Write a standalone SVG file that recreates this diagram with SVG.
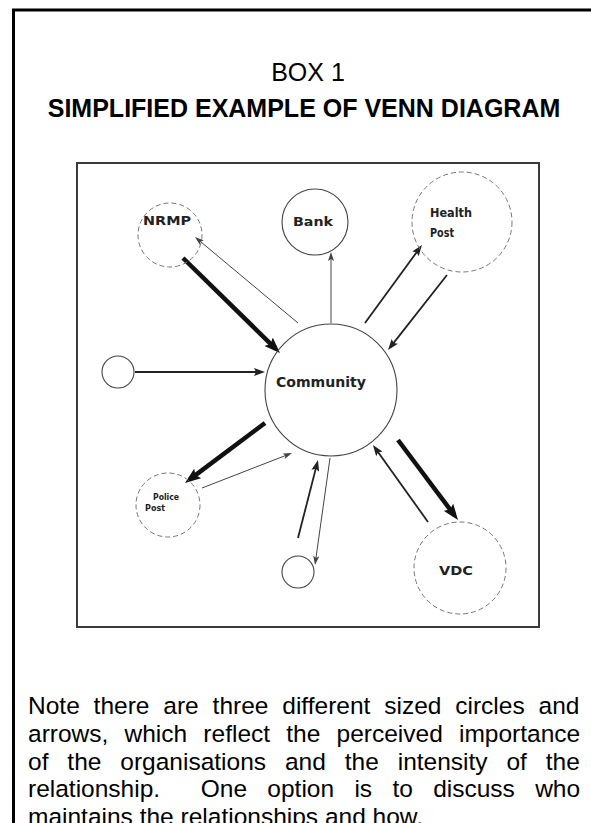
<svg xmlns="http://www.w3.org/2000/svg" width="591" height="823" viewBox="0 0 591 823">
<style>
.body{font-family:"Liberation Sans",Arial,sans-serif;font-size:24.5px;fill:#000}
.head{font-family:"Liberation Sans",Arial,sans-serif;font-size:25px;fill:#000;text-anchor:middle}
.lbl{font-family:"DejaVu Sans",sans-serif;font-weight:bold;font-size:12px;fill:#222;text-anchor:middle}
.c{fill:none;stroke:#444;stroke-width:1.1}
.cf{fill:none;stroke:#777;stroke-width:1;stroke-dasharray:5 3}
.thick{stroke:#111;stroke-width:4.5;fill:none}
.med{stroke:#222;stroke-width:1.8;fill:none}
.thin{stroke:#444;stroke-width:1;fill:none}
</style>
<defs>
<marker id="ah-thick" viewBox="0 0 16 12" markerWidth="16" markerHeight="12" refX="10" refY="6" orient="auto" markerUnits="userSpaceOnUse"><path d="M0,0 L16,6 L0,12 L3,6 z" fill="#111"/></marker>
<marker id="ah-med" viewBox="0 0 11 8" markerWidth="11" markerHeight="8" refX="7" refY="4" orient="auto" markerUnits="userSpaceOnUse"><path d="M0,0 L11,4 L0,8 L2,4 z" fill="#222"/></marker>
<marker id="ah-thin" viewBox="0 0 9 6" markerWidth="9" markerHeight="6" refX="6" refY="3" orient="auto" markerUnits="userSpaceOnUse"><path d="M0,0 L9,3 L0,6 L2,3 z" fill="#444"/></marker>
</defs>
<rect width="591" height="823" fill="#fff"/>
<path d="M13.5,823 V10 H591" fill="none" stroke="#000" stroke-width="3"/>
<text class="head" x="308" y="81">BOX 1</text>
<text class="head" x="304" y="117" font-weight="bold">SIMPLIFIED EXAMPLE OF VENN DIAGRAM</text>
<rect x="77" y="163" width="462" height="464" fill="none" stroke="#3a3a3a" stroke-width="2"/>
<g id="connectors">
<line class="thick" x1="183" y1="258" x2="275.7" y2="348.8" marker-end="url(#ah-thick)"/>
<line class="thin" x1="298" y1="323" x2="197.3" y2="238.9" marker-end="url(#ah-thin)"/>
<line class="thin" x1="331" y1="323" x2="331" y2="255" marker-end="url(#ah-thin)"/>
<line class="med" x1="365" y1="323" x2="419.6" y2="248.2" marker-end="url(#ah-med)"/>
<line class="med" x1="447" y1="275" x2="390.5" y2="346.9" marker-end="url(#ah-med)"/>
<line class="med" x1="135" y1="372" x2="261" y2="372" marker-end="url(#ah-med)"/>
<line class="thick" x1="265" y1="423" x2="189.8" y2="479.4" marker-end="url(#ah-thick)"/>
<line class="thin" x1="202" y1="488" x2="289.2" y2="454.1" marker-end="url(#ah-thin)"/>
<line class="med" x1="298" y1="538" x2="317" y2="463.9" marker-end="url(#ah-med)"/>
<line class="thin" x1="330" y1="458" x2="315.4" y2="562" marker-end="url(#ah-thin)"/>
<line class="med" x1="428" y1="522" x2="375.3" y2="448.3" marker-end="url(#ah-med)"/>
<line class="thick" x1="398" y1="440" x2="454.4" y2="515.2" marker-end="url(#ah-thick)"/>
</g>
<g id="community"><circle class="c" cx="331" cy="390" r="66"/><text class="lbl" x="321" y="387" style="font-size:14px" textLength="90" lengthAdjust="spacingAndGlyphs">Community</text></g>
<g id="nrmp"><circle class="cf" cx="170" cy="235" r="32"/><text class="lbl" x="167" y="225" style="font-size:13px" textLength="48" lengthAdjust="spacingAndGlyphs">NRMP</text></g>
<g id="bank"><circle class="c" cx="315" cy="222" r="33"/><text class="lbl" x="313" y="226" style="font-size:13px" textLength="40" lengthAdjust="spacingAndGlyphs">Bank</text></g>
<g id="health-post"><circle class="cf" cx="462" cy="222" r="50"/><text class="lbl" x="451" y="217" style="font-size:13px" textLength="42" lengthAdjust="spacingAndGlyphs">Health</text><text class="lbl" x="442" y="237" style="font-size:13px" textLength="24" lengthAdjust="spacingAndGlyphs">Post</text></g>
<g id="left-circle"><circle class="c" cx="118" cy="372" r="16"/></g>
<g id="police-post"><circle class="cf" cx="168" cy="505" r="32"/><text class="lbl" x="166" y="500" style="font-size:8px" textLength="26" lengthAdjust="spacingAndGlyphs">Police</text><text class="lbl" x="155" y="511" style="font-size:8px" textLength="20" lengthAdjust="spacingAndGlyphs">Post</text></g>
<g id="bottom-circle"><circle class="c" cx="298" cy="572" r="16"/></g>
<g id="vdc"><circle class="cf" cx="460" cy="568" r="46"/><text class="lbl" x="456" y="575" style="font-size:13px" textLength="34" lengthAdjust="spacingAndGlyphs">VDC</text></g>
<text class="body" x="28" y="714" word-spacing="7.05">Note there are three different sized circles and</text>
<text class="body" x="28" y="742" word-spacing="9.4">arrows, which reflect the perceived importance</text>
<text class="body" x="28" y="769.5" word-spacing="12.1">of the organisations and the intensity of the</text>
<text class="body" x="28" y="797" word-spacing="13.5" xml:space="preserve">relationship.  One option is to discuss who</text>
<text class="body" x="28" y="824.5">maintains the relationships and how.</text>
</svg>
